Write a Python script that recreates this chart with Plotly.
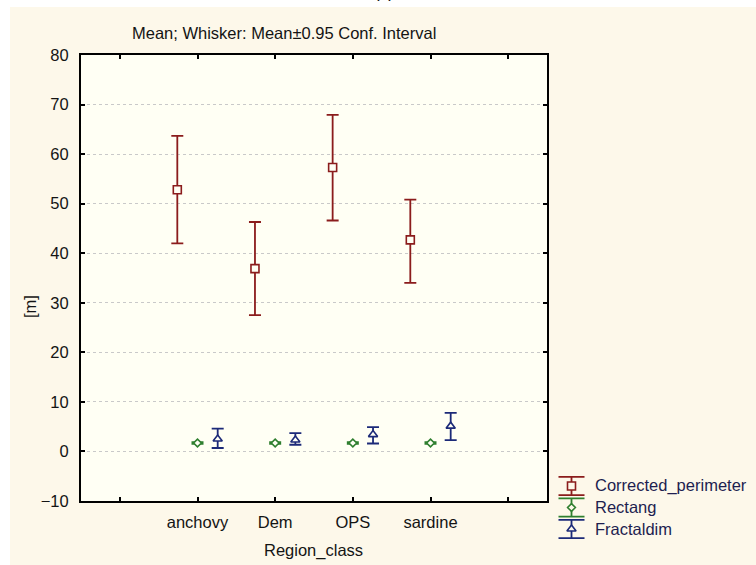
import plotly.graph_objects as go

# ---- data -------------------------------------------------------------
categories = ["anchovy", "Dem", "OPS", "sardine"]
tick_labels = ["", "anchovy", "Dem", "OPS", "sardine", ""]

series_names = ["Corrected_perimeter", "Rectang", "Fractaldim"]

perimeter_mean = [52.8, 36.9, 57.3, 42.7]
perimeter_low = [42.0, 27.5, 46.6, 34.0]
perimeter_high = [63.7, 46.3, 67.9, 50.8]

rectang_mean = [1.7, 1.7, 1.7, 1.7]
rectang_low = [1.6, 1.6, 1.6, 1.6]
rectang_high = [1.8, 1.8, 1.8, 1.8]

fractal_mean = [2.5, 2.3, 3.4, 5.1]
fractal_low = [0.7, 1.35, 1.6, 2.3]
fractal_high = [4.6, 3.7, 4.9, 7.8]

y_ticks = list(range(-10, 81, 10))

# ---- styling ----------------------------------------------------------
W, H = 756, 565
M_L, M_R, M_T, M_B = 81, 0, 55, 20
PW, PH = W - M_L - M_R, H - M_T - M_B


def px_x(px):
    return (px - M_L) / PW


def px_y(py):
    return (H - M_B - py) / PH


OUTER_BG = "#fdf8ea"
INNER_BG = "#fffff4"
TEXT = "#141414"
FONT = "Liberation Sans, Arial, sans-serif"
FS = 16.5

colors = ["#8b1c1c", "#2f7f2f", "#1c2a78"]
symbols = ["square", "diamond", "triangle-up"]
sizes = [8, 6, 8]
offsets = [-0.26, 0.0, 0.26]
bar_thickness = [1.8, 2.4, 1.8]

means = [perimeter_mean, rectang_mean, fractal_mean]
lows = [perimeter_low, rectang_low, fractal_low]
highs = [perimeter_high, rectang_high, fractal_high]

fig = go.Figure()

cat_pos = [i + 1 for i in range(len(categories))]

for k, name in enumerate(series_names):
    m, lo, hi = means[k], lows[k], highs[k]
    fig.add_trace(go.Scatter(
        x=[p + offsets[k] for p in cat_pos],
        y=m,
        mode="markers",
        name=name,
        showlegend=False,
        marker=dict(symbol=symbols[k], size=sizes[k], color=INNER_BG,
                    line=dict(color=colors[k], width=1.6)),
        error_y=dict(type="data", symmetric=False,
                     array=[h - v for h, v in zip(hi, m)],
                     arrayminus=[v - l for v, l in zip(m, lo)],
                     color=colors[k], thickness=bar_thickness[k], width=6),
        xaxis="x", yaxis="y",
    ))

# legend keys: whisker symbol for each series drawn on a small helper axis
for k, name in enumerate(series_names):
    fig.add_trace(go.Scatter(
        x=[0], y=[k], mode="markers", showlegend=False, hoverinfo="skip",
        marker=dict(symbol=symbols[k], size=sizes[k], color=OUTER_BG,
                    line=dict(color=colors[k], width=1.6)),
        error_y=dict(type="constant", value=0.42, color=colors[k],
                     thickness=1.8, width=13),
        xaxis="x2", yaxis="y2",
    ))

# plot-area bottom edge sits at y=501 px
y_dom_bottom = px_y(501)

fig.update_layout(
    width=W, height=H,
    margin=dict(l=M_L, r=M_R, t=M_T, b=M_B, autoexpand=False),
    paper_bgcolor="white",
    plot_bgcolor="rgba(0,0,0,0)",
    font=dict(family=FONT, size=FS, color=TEXT),
    showlegend=False,
    xaxis=dict(
        domain=[0, px_x(547)], range=[-0.5, 5.5],
        tickmode="array", tickvals=list(range(len(tick_labels))), ticktext=tick_labels,
        ticks="inside", ticklen=4, tickwidth=1.5, tickcolor="black",
        showline=True, linecolor="black", linewidth=2, mirror="ticks",
        showgrid=False, zeroline=False, ticklabelstandoff=5,
        tickfont=dict(size=FS, color=TEXT), automargin=False,
    ),
    yaxis=dict(
        domain=[y_dom_bottom, 1], range=[-10, 80],
        tickmode="array", tickvals=y_ticks,
        ticks="inside", ticklen=4, tickwidth=1.5, tickcolor="black",
        showline=True, linecolor="black", linewidth=2, mirror="ticks",
        showgrid=True, gridcolor="#c9c9c9", griddash="dot", gridwidth=1,
        zeroline=False, ticklabelstandoff=7,
        tickfont=dict(size=FS, color=TEXT), automargin=False,
    ),
    xaxis2=dict(domain=[px_x(551), px_x(592)], range=[-1, 1], visible=False,
                anchor="y2", fixedrange=True),
    yaxis2=dict(domain=[px_y(545), px_y(470)], range=[2.744, -0.744], visible=False,
                anchor="x2", fixedrange=True),
)

shapes = [
    # outer cream panel
    dict(type="rect", xref="paper", yref="paper",
         x0=px_x(10), x1=px_x(W + 2), y0=px_y(H + 2), y1=px_y(7),
         fillcolor=OUTER_BG, line=dict(width=0), layer="below"),
    # inner plot background
    dict(type="rect", xref="x domain", yref="y domain",
         x0=0, x1=1, y0=0, y1=1,
         fillcolor=INNER_BG, line=dict(width=0), layer="below"),
]
fig.update_layout(shapes=shapes)

annotations = [
    dict(text="(c)", xref="paper", yref="paper", x=px_x(384), y=px_y(4),
         xanchor="center", yanchor="bottom", showarrow=False,
         font=dict(size=17, color="black")),
    dict(text="Mean; Whisker: Mean\u00b10.95 Conf. Interval", xref="paper", yref="paper",
         x=px_x(130), y=px_y(33), xanchor="left", yanchor="middle", showarrow=False,
         font=dict(size=FS, color=TEXT)),
    dict(text="[m]", xref="paper", yref="paper", x=px_x(30), y=px_y(307),
         xanchor="center", yanchor="middle", textangle=-90, showarrow=False,
         font=dict(size=FS, color=TEXT)),
    dict(text="Region_class", xref="paper", yref="paper", x=px_x(313), y=px_y(550),
         xanchor="center", yanchor="middle", showarrow=False,
         font=dict(size=FS, color=TEXT)),
]
for k, name in enumerate(series_names):
    annotations.append(dict(
        text=name, xref="paper", yref="y2", x=px_x(593), y=k,
        xanchor="left", yanchor="middle", showarrow=False,
        font=dict(size=FS, color="#1e1e50"),
    ))
fig.update_layout(annotations=annotations)

fig.write_html("out.html")
